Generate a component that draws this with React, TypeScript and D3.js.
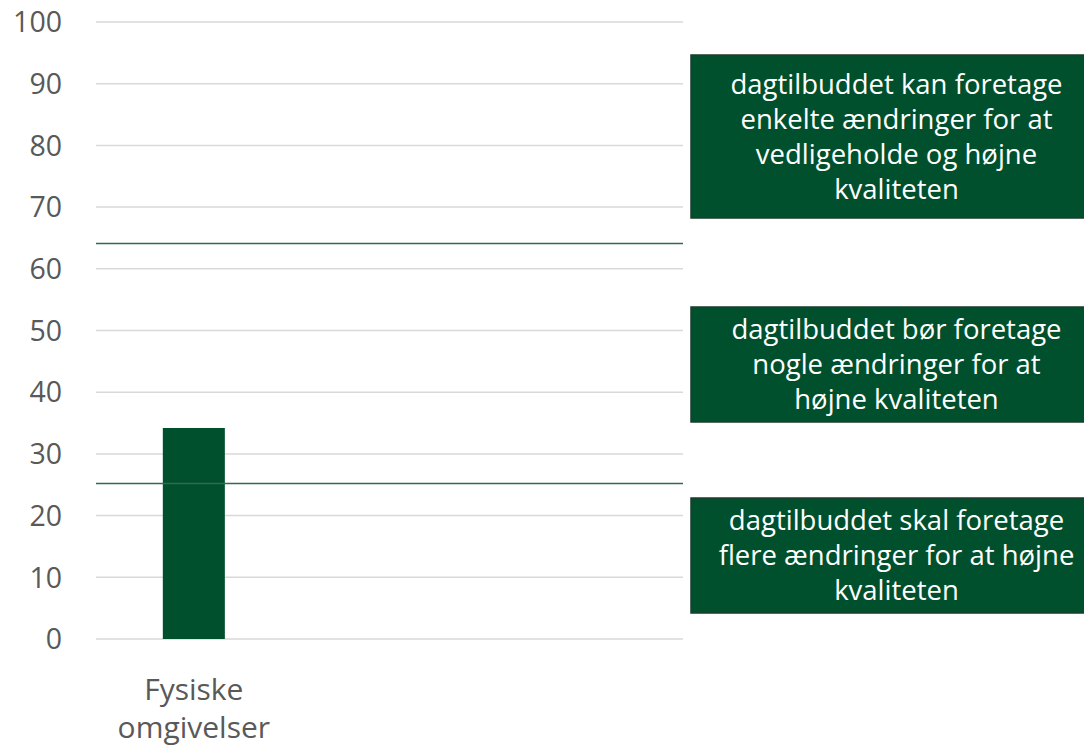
import React from 'react';
import * as d3 from 'd3';

// chart data
const categories = ['Fysiske omgivelser', 'k2', 'k3'];
const categoryLabels = [['Fysiske', 'omgivelser'], [], []];
const scores: (number | null)[] = [34.2, null, null];
const yTicks = [0, 10, 20, 30, 40, 50, 60, 70, 80, 90, 100];
const thresholds = [64.1, 25.2];
const boxTexts = [
  ['dagtilbuddet kan foretage', 'enkelte ændringer for at', 'vedligeholde og højne', 'kvaliteten'],
  ['dagtilbuddet bør foretage', 'nogle ændringer for at', 'højne kvaliteten'],
  ['dagtilbuddet skal foretage', 'flere ændringer for at højne', 'kvaliteten'],
];

const width = 1084;
const height = 748;
const plot = { left: 96, right: 683, top: 22, bottom: 639 };
const green = '#00502e';
const font = "'Open Sans', 'Noto Sans', sans-serif";

// text box layout (top, bottom)
const boxes = [
  { y0: 55, y1: 218 },
  { y0: 307, y1: 422 },
  { y0: 498, y1: 613 },
];
const boxX0 = 691;
const boxX1 = 1102;

const App: React.FC = () => {
  const y = d3.scaleLinear().domain([0, 100]).range([plot.bottom, plot.top]);
  const x = d3.scaleBand().domain(categories).range([plot.left, plot.right]).padding(0);
  const barW = x.bandwidth() * 0.317;

  return (
    <svg
      width={width}
      height={height}
      style={{ position: 'absolute', left: 0, top: 0, background: '#fff' }}
      fontFamily={font}
    >
      {/* gridlines + tick labels */}
      {yTicks.map((t) => (
        <g key={t}>
          <line x1={plot.left} x2={plot.right} y1={y(t)} y2={y(t)} stroke="#d9d9d9" strokeWidth={1.5} />
          <text x={62} y={y(t)} dy="0.36em" textAnchor="end" fontSize={28.5} fill="#595959">
            {t}
          </text>
        </g>
      ))}

      {/* bars */}
      {categories.map((c, i) =>
        scores[i] == null ? null : (
          <rect
            key={c}
            x={(x(c) ?? 0) + x.bandwidth() / 2 - barW / 2}
            width={barW}
            y={y(scores[i] as number)}
            height={y(0) - y(scores[i] as number)}
            fill={green}
          />
        )
      )}

      {/* threshold lines */}
      {thresholds.map((t) => (
        <line key={t} x1={plot.left} x2={plot.right} y1={y(t)} y2={y(t)} stroke="#2f6b4d" strokeWidth={1.5} />
      ))}

      {/* category labels */}
      {categories.map((c, i) => (
        <text key={c} x={(x(c) ?? 0) + x.bandwidth() / 2} textAnchor="middle" fontSize={30} fill="#595959">
          {categoryLabels[i].map((l, j) => (
            <tspan key={j} x={(x(c) ?? 0) + x.bandwidth() / 2} y={700 + j * 38}>
              {l}
            </tspan>
          ))}
        </text>
      ))}

      {/* annotation boxes */}
      {boxes.map((b, i) => {
        const lines = boxTexts[i];
        const lh = 35;
        const cx = (boxX0 + boxX1) / 2;
        const cy = (b.y0 + b.y1) / 2;
        const start = cy - ((lines.length - 1) * lh) / 2;
        return (
          <g key={i}>
            <rect x={boxX0} y={b.y0} width={boxX1 - boxX0} height={b.y1 - b.y0} fill={green} stroke="#1d3d2c" strokeWidth={1.5} />
            <text textAnchor="middle" fontSize={27.5} fill="#fff">
              {lines.map((l, j) => (
                <tspan key={j} x={cx} y={start + j * lh} dy="0.35em">
                  {l}
                </tspan>
              ))}
            </text>
          </g>
        );
      })}
    </svg>
  );
};

export default App;
